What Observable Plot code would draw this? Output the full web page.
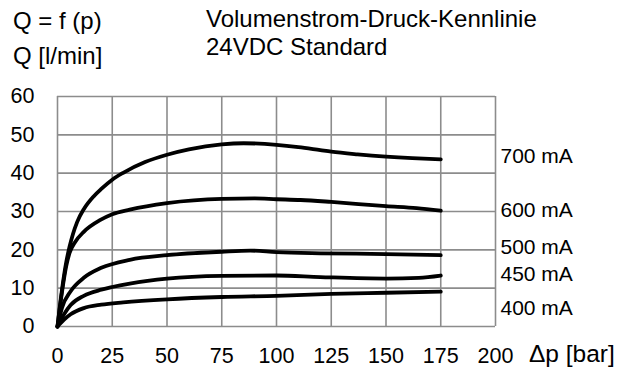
<!DOCTYPE html>
<html>
<head>
<meta charset="utf-8">
<script src="https://cdn.jsdelivr.net/npm/d3@7"></script>
<script src="https://cdn.jsdelivr.net/npm/@observablehq/plot@0.6"></script>
<style>
  html, body { margin: 0; padding: 0; background: #fff; }
  #chart { width: 633px; height: 374px; }
</style>
</head>
<body>
<div id="chart"></div>
<script>
// Series: pressure difference Δp [bar] and flow Q [l/min]
const series = ["700 mA", "600 mA", "500 mA", "450 mA", "400 mA"];
const p700 = [0, 2, 4, 5.5, 7, 9, 12, 16.6, 20, 25, 30, 40, 50, 60, 75, 85, 100, 110, 120, 125, 137, 150, 162, 175];
const q700 = [0, 9.4, 16.8, 20.8, 24, 27.3, 30.6, 34, 35.9, 38.3, 40.1, 42.9, 44.8, 46.2, 47.5, 47.8, 47.4, 46.8, 46, 45.6, 44.9, 44.3, 43.9, 43.6];
const p600 = [0, 2, 4, 5.5, 8, 12, 19.6, 25, 33, 50, 75, 90, 100, 111, 125, 150, 164, 175];
const q600 = [0, 8.8, 15.8, 19.2, 22, 24.7, 27.8, 29.3, 30.5, 32.2, 33.3, 33.4, 33.2, 33, 32.5, 31.4, 30.9, 30.2];
const p500 = [0, 2, 6, 12, 20, 33, 50, 75, 88, 100, 120, 150, 175];
const q500 = [0, 4.8, 9.2, 12.7, 15.3, 17.4, 18.6, 19.5, 19.8, 19.4, 19.1, 18.9, 18.6];
const p450 = [0, 3, 6, 12, 20, 25, 33, 50, 75, 100, 120, 150, 165, 175];
const q450 = [0, 3.2, 5.6, 8, 9.6, 10.3, 11.2, 12.5, 13.2, 13.3, 12.9, 12.5, 12.7, 13.3];
const p400 = [0, 3, 6, 12, 20, 30, 50, 75, 100, 125, 150, 175];
const q400 = [0, 1.8, 3.2, 4.8, 5.7, 6.3, 7.1, 7.7, 8, 8.5, 8.8, 9.1];
const labelQ = [44.3, 30.4, 20.6, 13.6, 4.7];
const xTicks = [0, 25, 50, 75, 100, 125, 150, 175, 200];
const yTicks = [0, 10, 20, 30, 40, 50, 60];
const headerLeft = ["Q = f (p)", "Q [l/min]"];
const headerTitle = ["Volumenstrom-Druck-Kennlinie", "24VDC Standard"];
const xLabel = "Δp [bar]";

const P = [p700, p600, p500, p450, p400];
const Q = [q700, q600, q500, q450, q400];
const rows = [];
series.forEach((s, i) => P[i].forEach((p, j) => rows.push({s, p, q: Q[i][j]})));
const labels = series.map((s, i) => ({s, p: 200, q: labelQ[i]}));

const FONT = "Liberation Sans, Arial, sans-serif";

const plot = Plot.plot({
  width: 633,
  height: 374,
  marginLeft: 57,
  marginRight: 138,
  marginTop: 96,
  marginBottom: 48,
  style: {fontFamily: FONT, fontSize: "21.5px", color: "#000", background: "#fff"},
  x: {domain: [0, 200], ticks: xTicks},
  y: {domain: [0, 60], ticks: yTicks},
  marks: [
    Plot.gridX(xTicks, {stroke: "#8c8c8c", strokeOpacity: 1, strokeWidth: 1.6}),
    Plot.gridY(yTicks, {stroke: "#8c8c8c", strokeOpacity: 1, strokeWidth: 1.6}),
    Plot.axisX(xTicks, {tickSize: 0, tickPadding: 21, label: null, fontSize: 21.5}),
    Plot.axisY(yTicks, {tickSize: 0, tickPadding: 23, label: null, fontSize: 21.5}),
    Plot.line(rows, {x: "p", y: "q", z: "s", stroke: "#000", strokeWidth: 3.8, curve: "monotone-x"}),
    Plot.text(labels, {x: "p", y: "q", text: "s", textAnchor: "start", dx: 5, fontSize: 21, fill: "#000"})
  ]
});
document.getElementById("chart").appendChild(plot);

const svg = d3.select(plot);
const addText = (str, x, y, size) => svg.append("text")
  .attr("x", x).attr("y", y)
  .attr("text-anchor", "start")
  .style("text-anchor", "start")
  .attr("font-family", FONT).attr("font-size", size).attr("fill", "#000")
  .text(str);
addText(headerLeft[0], 13, 28.5, 24);
addText(headerLeft[1], 13, 63.5, 24);
addText(headerTitle[0], 206, 26.5, 24);
addText(headerTitle[1], 206, 54.5, 24);
addText(xLabel, 529, 362, 24.5);
</script>
</body>
</html>
